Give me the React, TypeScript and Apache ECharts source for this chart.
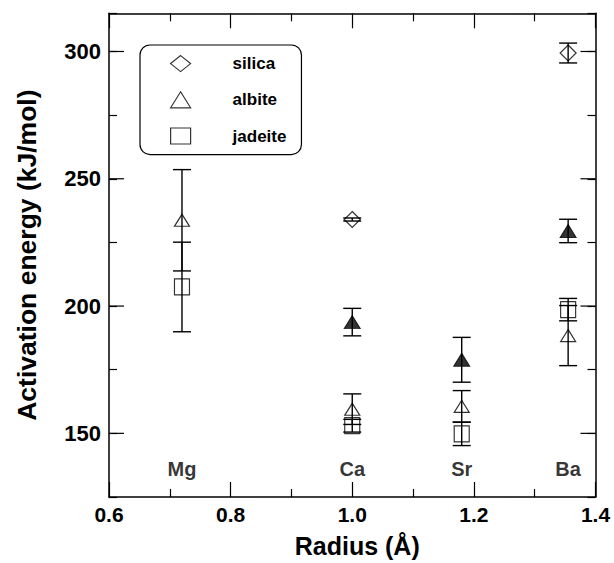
import React, { useEffect, useRef } from "react";
import * as echarts from "echarts";

// ---- data ----
const elements = ["Mg", "Ca", "Sr", "Ba"];
const radii = [0.72, 1.0, 1.18, 1.355];
const elementLabelY = 136;

const silicaX = [1.0, 1.355];
const silicaE = [234.0, 299.4];
const silicaErr = [0.6, 3.9];

const albiteX = [0.72, 1.0, 1.18, 1.355];
const albiteE = [233.7, 159.5, 160.6, 188.4];
const albiteErr = [19.9, 6.0, 6.2, 11.8];

const jadeiteX = [0.72, 1.0, 1.18, 1.355];
const jadeiteE = [207.5, 153.0, 149.8, 198.6];
const jadeiteErr = [17.6, 2.5, 4.6, 4.4];

const filledX = [1.0, 1.18, 1.355];
const filledE = [193.7, 178.9, 229.5];
const filledErr = [5.4, 8.8, 4.6];

const xTickMin = 0.6;
const xTickMax = 1.4;
const yMin = 125;
const yMax = 315;
const yMajorTicks = [150, 200, 250, 300];

const FONT = "'Liberation Sans', Arial, Helvetica, sans-serif";

function pts(xs: number[], ys: number[]) {
  return xs.map((x, i) => [x, ys[i]]);
}
function errs(xs: number[], ys: number[], es: number[]) {
  return xs.map((x, i) => [x, ys[i], es[i]]);
}

const errorRender = (params: any, api: any) => {
  const x = api.value(0);
  const y = api.value(1);
  const e = api.value(2);
  const top = api.coord([x, y + e]);
  const bot = api.coord([x, y - e]);
  const hw = 9;
  const style = { stroke: "#000", lineWidth: 1.4 };
  return {
    type: "group",
    children: [
      { type: "line", shape: { x1: top[0], y1: top[1], x2: bot[0], y2: bot[1] }, style },
      { type: "line", shape: { x1: top[0] - hw, y1: top[1], x2: top[0] + hw, y2: top[1] }, style },
      { type: "line", shape: { x1: bot[0] - hw, y1: bot[1], x2: bot[0] + hw, y2: bot[1] }, style },
    ],
  };
};

const longTickRender = (params: any, api: any) => {
  const cs = params.coordSys;
  const p = api.coord([xTickMin, api.value(1)]);
  const len = 15;
  const style = { stroke: "#000", lineWidth: 1.2 };
  return {
    type: "group",
    children: [
      { type: "line", shape: { x1: cs.x, y1: p[1], x2: cs.x + len, y2: p[1] }, style },
      { type: "line", shape: { x1: cs.x + cs.width - len, y1: p[1], x2: cs.x + cs.width, y2: p[1] }, style },
    ],
  };
};

const openStyle = { color: "transparent", borderColor: "#000", borderWidth: 1.2 };

export default function App() {
  const ref = useRef<HTMLDivElement>(null);
  useEffect(() => {
    if (!ref.current) return;
    const chart = echarts.init(ref.current, null, { renderer: "svg" });
    const axisLine = { show: true, lineStyle: { color: "#000", width: 1.5 } };
    chart.setOption({
      animation: false,
      backgroundColor: "#fff",
      textStyle: { fontFamily: FONT },
      grid: { left: 109, right: 18.5, top: 13.3, bottom: 60.5, containLabel: false },
      legend: {
        left: 140,
        top: 45,
        orient: "vertical",
        itemWidth: 20,
        itemHeight: 16,
        itemGap: 19,
        padding: [10, 15, 10, 30],
        backgroundColor: "#fff",
        borderColor: "#000",
        borderWidth: 1.2,
        borderRadius: 10,
        selectedMode: false,
        itemStyle: { color: "transparent", borderColor: "#000", borderWidth: 1.2 },
        textStyle: {
          fontFamily: FONT,
          fontWeight: "bold",
          fontSize: 17,
          color: "#000",
          lineHeight: 16,
          padding: [0, 0, 0, 37],
        },
        data: [
          { name: "silica", icon: "diamond" },
          { name: "albite", icon: "triangle" },
          { name: "jadeite", icon: "rect" },
        ],
      },
      xAxis: [
        {
          type: "value",
          min: xTickMin,
          max: xTickMax,
          interval: 0.2,
          position: "bottom",
          name: "Radius (Å)",
          nameLocation: "middle",
          nameGap: 36,
          nameTextStyle: {
            fontFamily: FONT,
            fontWeight: "bold",
            fontSize: 25,
            color: "#000",
            padding: [0, 0, 0, 10],
          },
          axisLine,
          axisTick: { show: true, inside: true, length: 15, lineStyle: { color: "#000", width: 1.2 } },
          minorTick: { show: true, splitNumber: 2, length: 8, lineStyle: { color: "#000", width: 1.2 } },
          axisLabel: {
            fontFamily: FONT,
            fontWeight: "bold",
            fontSize: 21,
            color: "#000",
            margin: 7,
            formatter: (v: number) => v.toFixed(1),
          },
          splitLine: { show: false },
        },
        {
          type: "value",
          min: xTickMin,
          max: xTickMax,
          interval: 0.2,
          position: "top",
          axisLine,
          axisTick: { show: true, inside: true, length: 15, lineStyle: { color: "#000", width: 1.2 } },
          minorTick: { show: true, splitNumber: 2, length: 8, lineStyle: { color: "#000", width: 1.2 } },
          axisLabel: { show: false },
          splitLine: { show: false },
        },
      ],
      yAxis: [
        {
          type: "value",
          min: yMin,
          max: yMax,
          interval: 25,
          position: "left",
          name: "Activation energy (kJ/mol)",
          nameLocation: "middle",
          nameGap: 69,
          nameTextStyle: { fontFamily: FONT, fontWeight: "bold", fontSize: 26.5, color: "#000" },
          axisLine,
          axisTick: { show: true, inside: true, length: 8, lineStyle: { color: "#000", width: 1.2 } },
          axisLabel: {
            fontFamily: FONT,
            fontWeight: "bold",
            fontSize: 22,
            color: "#000",
            margin: 8,
            formatter: (v: number) => (v % 50 === 0 ? String(v) : ""),
          },
          splitLine: { show: false },
        },
        {
          type: "value",
          min: yMin,
          max: yMax,
          interval: 25,
          position: "right",
          axisLine,
          axisTick: { show: true, inside: true, length: 8, lineStyle: { color: "#000", width: 1.2 } },
          axisLabel: { show: false },
          splitLine: { show: false },
        },
      ],
      series: [
        {
          name: "ticks",
          type: "custom",
          renderItem: longTickRender,
          data: yMajorTicks.map((v) => [xTickMin, v]),
          silent: true,
          z: 1,
        },
        {
          name: "silica-err",
          type: "custom",
          renderItem: errorRender,
          data: errs(silicaX, silicaE, silicaErr),
          silent: true,
          z: 3,
        },
        {
          name: "albite-err",
          type: "custom",
          renderItem: errorRender,
          data: errs(albiteX, albiteE, albiteErr),
          silent: true,
          z: 3,
        },
        {
          name: "jadeite-err",
          type: "custom",
          renderItem: errorRender,
          data: errs(jadeiteX, jadeiteE, jadeiteErr),
          silent: true,
          z: 3,
        },
        {
          name: "filled-err",
          type: "custom",
          renderItem: errorRender,
          data: errs(filledX, filledE, filledErr),
          silent: true,
          z: 3,
        },
        {
          name: "silica",
          type: "scatter",
          symbol: "diamond",
          symbolSize: [16, 16],
          itemStyle: openStyle,
          data: pts(silicaX, silicaE),
          silent: true,
          z: 4,
        },
        {
          name: "albite",
          type: "scatter",
          symbol: "triangle",
          symbolSize: [15, 12],
          itemStyle: openStyle,
          data: pts(albiteX, albiteE),
          silent: true,
          z: 4,
        },
        {
          name: "jadeite",
          type: "scatter",
          symbol: "rect",
          symbolSize: [15, 16],
          itemStyle: openStyle,
          data: pts(jadeiteX, jadeiteE),
          silent: true,
          z: 4,
        },
        {
          name: "albite (filled)",
          type: "scatter",
          symbol: "triangle",
          symbolSize: [16, 13],
          itemStyle: { color: "#000", borderColor: "#000", borderWidth: 1 },
          data: pts(filledX, filledE),
          silent: true,
          z: 4,
        },
        {
          name: "elements",
          type: "scatter",
          symbolSize: 0,
          silent: true,
          data: elements.map((n, i) => [radii[i], elementLabelY, n]),
          label: {
            show: true,
            position: "inside",
            formatter: (p: any) => p.value[2],
            fontFamily: FONT,
            fontWeight: "bold",
            fontSize: 20,
            color: "#000",
          },
          z: 5,
        },
      ],
    });
    return () => chart.dispose();
  }, []);
  return (
    <div
      ref={ref}
      style={{ position: "absolute", left: 0, top: 0, width: 614, height: 563 }}
    />
  );
}
